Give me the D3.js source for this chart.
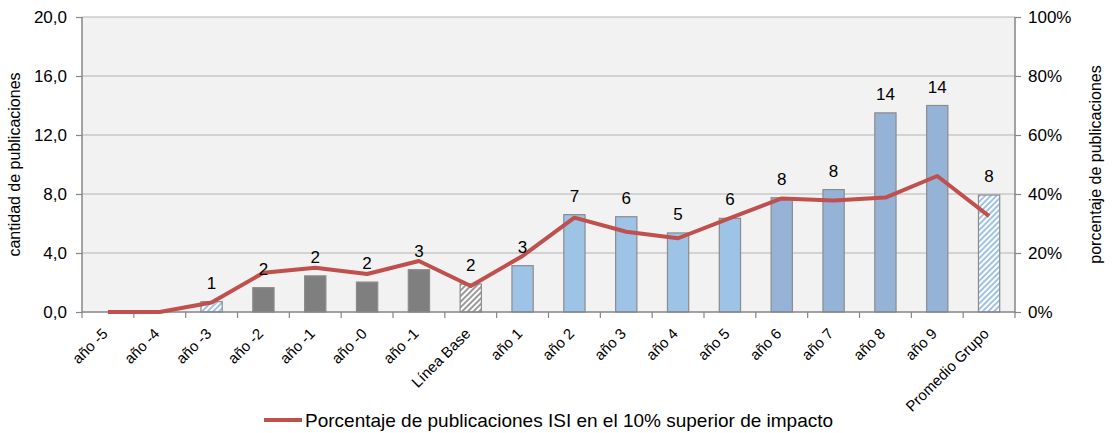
<!DOCTYPE html>
<html>
<head>
<meta charset="utf-8">
<script src="https://cdn.jsdelivr.net/npm/d3@7"></script>
<style>
  body { margin: 0; background: #fff; }
  text { font-family: "Liberation Sans", Arial, sans-serif; fill: #000; }
</style>
</head>
<body>
<svg id="chart" width="1117" height="433"></svg>
<script>
// data
const categories = ["año -5", "año -4", "año -3", "año -2", "año -1", "año -0", "año -1 ", "Línea Base",
    "año 1", "año 2", "año 3", "año 4", "año 5", "año 6", "año 7", "año 8", "año 9", "Promedio Grupo"];
const publicaciones = [0, 0, 0.7, 1.65, 2.45, 2.03, 2.87, 1.9, 3.14, 6.6, 6.46, 5.36, 6.35, 7.75, 8.3, 13.5, 14.0, 7.93];
const etiquetas = ["", "", "1", "2", "2", "2", "3", "2", "3", "7", "6", "5", "6", "8", "8", "14", "14", "8"];
const porcentaje = [0, 0, 3.2, 13.3, 15, 12.9, 17.3, 8.8, 19, 32, 27.2, 25, 31.8, 38.5, 37.8, 38.8, 46.1, 32.5];
// bar style per category: grey, hatched grey, light blue, blue, hatched blue
const estilos = ["grey", "grey", "hatchBlue", "grey", "grey", "grey", "grey", "hatchGrey",
    "light", "light", "light", "light", "light", "blue", "blue", "blue", "blue", "hatchBlue"];
const leftTicks = [0, 4, 8, 12, 16, 20];
const rightTicks = [0, 20, 40, 60, 80, 100];
const legendLabel = "Porcentaje de publicaciones ISI en el 10% superior de impacto";

const svg = d3.select("#chart");
const margin = { left: 82, right: 102, top: 17, bottom: 121 };
const width = 1117 - margin.left - margin.right;
const height = 433 - margin.top - margin.bottom;

const defs = svg.append("defs");
const hatch = (id, color) => {
    const p = defs.append("pattern")
        .attr("id", id)
        .attr("patternUnits", "userSpaceOnUse")
        .attr("width", 4).attr("height", 4)
        .attr("patternTransform", "rotate(45)");
    p.append("rect").attr("width", 4).attr("height", 4).attr("fill", "#fff");
    p.append("rect").attr("width", 2).attr("height", 4).attr("fill", color);
};
hatch("hatchGrey", "#9a9a9a");
hatch("hatchBlue", "#9dc3e6");

const fills = {
    grey: "#7f7f7f",
    light: "#9dc3e6",
    blue: "#95b3d7",
    hatchGrey: "url(#hatchGrey)",
    hatchBlue: "url(#hatchBlue)"
};

const g = svg.append("g").attr("transform", `translate(${margin.left},${margin.top})`);

const x = d3.scaleBand().domain(d3.range(categories.length)).range([0, width]).paddingInner(0.59).paddingOuter(0.295);
const xc = i => x(i) + x.bandwidth() / 2;
const step = width / categories.length;
const y = d3.scaleLinear().domain([0, 20]).range([height, 0]);
const y2 = d3.scaleLinear().domain([0, 100]).range([height, 0]);

g.append("rect").attr("width", width).attr("height", height).attr("fill", "#f2f2f2");

// grid
g.selectAll(".grid").data(leftTicks.filter(d => d > 0)).join("line")
    .attr("x1", 0).attr("x2", width)
    .attr("y1", d => y(d)).attr("y2", d => y(d))
    .attr("stroke", "#b3b3b3").attr("stroke-width", 1.2);

// bars
g.selectAll(".bar").data(publicaciones).join("rect")
    .attr("x", (d, i) => x(i))
    .attr("width", x.bandwidth())
    .attr("y", d => y(d))
    .attr("height", d => height - y(d))
    .attr("fill", (d, i) => fills[estilos[i]])
    .attr("stroke", d => d > 0 ? "#8c8c8c" : "none")
    .attr("stroke-width", 1.2);

// axes
const leftAxis = d3.axisLeft(y).tickValues(leftTicks).tickSize(6).tickPadding(9)
    .tickFormat(d => d3.format(".1f")(d).replace(".", ","));
const rightAxis = d3.axisRight(y2).tickValues(rightTicks).tickSize(6).tickPadding(7)
    .tickFormat(d => d + "%");
const styleAxis = sel => {
    sel.select(".domain").attr("stroke", "#868686").attr("stroke-width", 1.5);
    sel.selectAll(".tick line").attr("stroke", "#868686").attr("stroke-width", 1.2);
    sel.selectAll(".tick text").style("font-size", "17px").attr("fill", "#000")
        .style("font-family", '"Liberation Sans", Arial, sans-serif');
};
g.append("g").call(leftAxis).call(styleAxis).call(s => s.select(".domain").attr("d", `M0,${height + 0.5}V0`));
g.append("g").attr("transform", `translate(${width},0)`).call(rightAxis).call(styleAxis)
    .call(s => s.select(".domain").attr("d", `M0,${height + 0.5}V0`));

// bottom axis with ticks between categories
g.append("line").attr("x1", 0).attr("x2", width).attr("y1", height).attr("y2", height)
    .attr("stroke", "#868686").attr("stroke-width", 1.5);
g.selectAll(".xtick").data(d3.range(categories.length + 1)).join("line")
    .attr("x1", i => i * step).attr("x2", i => i * step)
    .attr("y1", height).attr("y2", height + 6)
    .attr("stroke", "#868686").attr("stroke-width", 1.2);
g.selectAll(".xlabel").data(categories).join("text")
    .attr("transform", (d, i) => `translate(${xc(i) - 3},${height + 19}) rotate(-45)`)
    .attr("text-anchor", "end")
    .attr("dy", "0.35em")
    .style("font-size", "15px")
    .text(d => d.trim());

// line
const line = d3.line().x((d, i) => xc(i)).y(d => y2(d));
g.append("path").datum(porcentaje)
    .attr("d", line)
    .attr("fill", "none")
    .attr("stroke", "#c0504d")
    .attr("stroke-width", 4)
    .attr("stroke-linejoin", "round");

// value labels
g.selectAll(".vlabel").data(publicaciones).join("text")
    .attr("x", (d, i) => xc(i))
    .attr("y", d => y(d) - 13)
    .attr("text-anchor", "middle")
    .style("font-size", "17px")
    .text((d, i) => etiquetas[i]);

// axis titles
svg.append("text")
    .attr("transform", `translate(20,${margin.top + height / 2}) rotate(-90)`)
    .attr("text-anchor", "middle")
    .style("font-size", "16px")
    .text("cantidad de publicaciones");
svg.append("text")
    .attr("transform", `translate(1101,${margin.top + height / 2}) rotate(-90)`)
    .attr("text-anchor", "middle")
    .style("font-size", "16px")
    .text("porcentaje de publicaciones");

// legend
const lg = svg.append("g").attr("transform", "translate(264,420)");
lg.append("line").attr("x1", 0).attr("x2", 38).attr("stroke", "#c0504d").attr("stroke-width", 4);
lg.append("text").attr("x", 41).attr("dy", "0.35em").style("font-size", "19px").text(legendLabel);
</script>
</body>
</html>
